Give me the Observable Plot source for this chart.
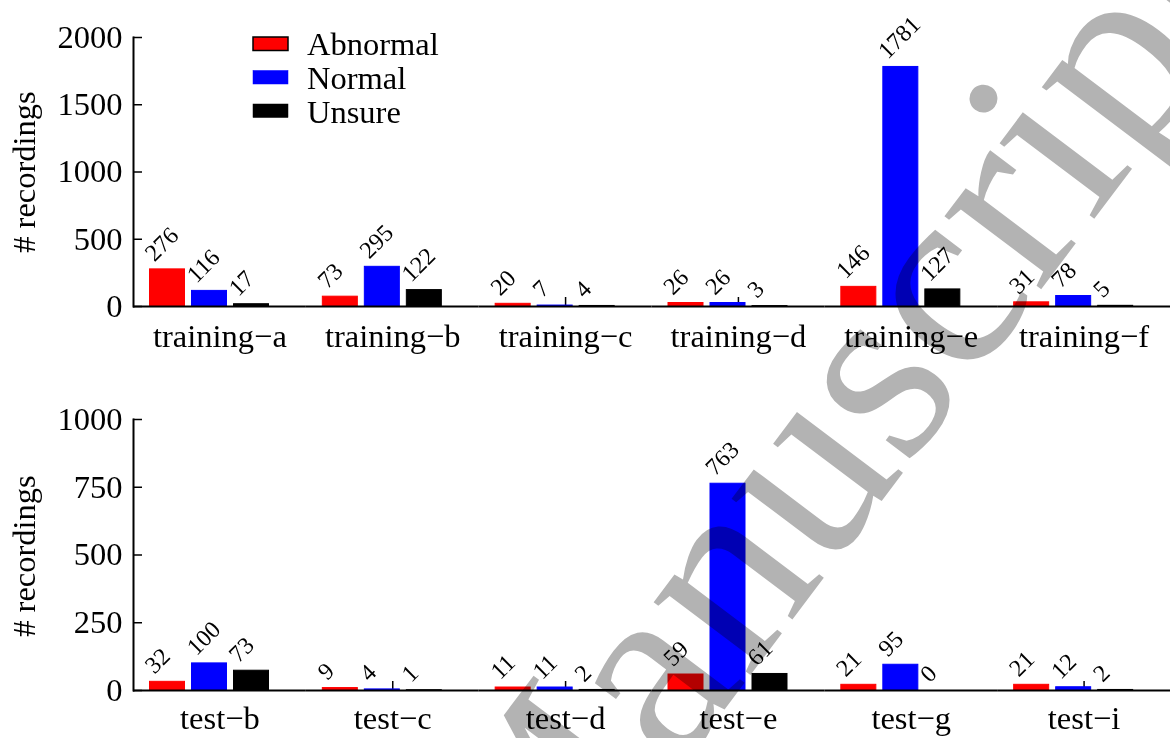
<!DOCTYPE html>
<html><head><meta charset="utf-8">
<script src="https://cdn.jsdelivr.net/npm/d3@7"></script>
<script src="https://cdn.jsdelivr.net/npm/@observablehq/plot@0.6"></script>
<style>
body{margin:0;background:#fff;}
#wrap{position:relative;width:1170px;height:738px;overflow:hidden;font-family:"Liberation Serif","Times New Roman",serif;}
#top{position:absolute;left:0;top:0;}
#bottom{position:absolute;left:0;top:380px;}
#annot{position:absolute;left:0;top:0;}
#mark{position:absolute;left:0;top:0;mix-blend-mode:multiply;pointer-events:none;}
</style></head>
<body><div id="wrap"><div id="top"></div><div id="bottom"></div></div>
<script>
const seriesNames = ["Abnormal", "Normal", "Unsure"];
const seriesColors = ["#ff0000", "#0000ff", "#000000"];

const trainingSets = ["training\u2212a", "training\u2212b", "training\u2212c", "training\u2212d", "training\u2212e", "training\u2212f"];
const trainingAbnormal = [276, 73, 20, 26, 146, 31];
const trainingNormal = [116, 295, 7, 26, 1781, 78];
const trainingUnsure = [17, 122, 4, 3, 127, 5];
const trainingTicks = [0, 500, 1000, 1500, 2000];

const testSets = ["test\u2212b", "test\u2212c", "test\u2212d", "test\u2212e", "test\u2212g", "test\u2212i"];
const testAbnormal = [32, 9, 11, 59, 21, 21];
const testNormal = [100, 4, 11, 763, 95, 12];
const testUnsure = [73, 1, 2, 61, 0, 2];
const testTicks = [0, 250, 500, 750, 1000];

const yLabel = "# recordings";
const watermark = "Manuscript";

const FONT = "Liberation Serif, Times New Roman, serif";

function panel(sets, abn, nor, uns, ticks, opts) {
  const rows = sets.flatMap((s, i) => [
    {set: s, series: seriesNames[0], value: abn[i]},
    {set: s, series: seriesNames[1], value: nor[i]},
    {set: s, series: seriesNames[2], value: uns[i]}
  ]);
  const facetWidth = (1170 - 133) / sets.length;
  return Plot.plot({
    width: 1170,
    height: opts.height,
    marginLeft: 133,
    marginRight: 0,
    marginTop: opts.marginTop,
    marginBottom: opts.marginBottom,
    style: {fontFamily: FONT, fontSize: "32.5px", color: "#000", background: "transparent", overflow: "visible"},
    fx: {domain: sets, padding: 0, round: false, label: null},
    x: {domain: seriesNames, axis: null, paddingInner: 7 / 42, paddingOuter: 0, round: false, insetLeft: 16.5, insetRight: facetWidth - 135.5},
    y: {domain: [ticks[0], ticks[ticks.length - 1]], label: null},
    color: {domain: seriesNames, range: seriesColors},
    marks: [
      Plot.axisFx({anchor: "bottom", tickSize: -9, fill: "none", strokeWidth: 1.5, label: null}),
      Plot.axisFx({anchor: "bottom", tickSize: 0, tickPadding: opts.labelPad, fontSize: 32.5, label: null}),
      Plot.ruleY(ticks, {facetAnchor: "left", insetRight: facetWidth - 9, strokeWidth: 1.5}),
      Plot.axisY({ticks, tickSize: 0, tickPadding: 11, fontSize: 32.5, tickFormat: d => String(d), label: null}),
      Plot.barY(rows, {fx: "set", x: "series", y: "value", fill: "series", stroke: "series", strokeWidth: 1}),
      Plot.ruleY([0], {strokeWidth: 2}),
      Plot.frame({anchor: "left", facetAnchor: "left", strokeWidth: 2}),
      Plot.text(rows, {fx: "set", x: "series", y: "value", text: d => String(d.value), rotate: -45,
        textAnchor: "start", lineAnchor: "bottom", dx: -13, dy: -7, fontSize: 24})
    ]
  });
}

document.getElementById("top").append(
  panel(trainingSets, trainingAbnormal, trainingNormal, trainingUnsure, trainingTicks,
    {height: 380, marginTop: 37, marginBottom: 74, labelPad: 17}));
document.getElementById("bottom").append(
  panel(testSets, testAbnormal, testNormal, testUnsure, testTicks,
    {height: 358, marginTop: 39, marginBottom: 48, labelPad: 15}));

// annotations: y labels and legend
const wrap = d3.select("#wrap");
const annot = wrap.append("svg").attr("id", "annot").attr("width", 1170).attr("height", 738)
  .style("font-family", FONT).style("font-size", "32.5px");
[172, 556].forEach(cy => {
  annot.append("text").attr("transform", `translate(35,${cy}) rotate(-90)`)
    .attr("text-anchor", "middle").attr("fill", "#000").text(yLabel);
});
const leg = annot.append("g");
seriesNames.forEach((name, i) => {
  leg.append("rect").attr("x", 253).attr("y", 37 + 33.5 * i).attr("width", 35).attr("height", 13.5)
    .attr("fill", seriesColors[i]).attr("stroke", i === 0 ? "#000" : seriesColors[i]).attr("stroke-width", i === 0 ? 1.5 : 0.5);
  leg.append("text").attr("x", 307).attr("y", 55 + 34 * i).attr("fill", "#000").text(name);
});

// watermark
const wm = wrap.append("svg").attr("id", "mark").attr("width", 1170).attr("height", 738);
wm.append("text").attr("transform", "translate(535,961) rotate(-53)")
  .attr("font-family", FONT).attr("font-size", 264).attr("fill", "#b3b3b3").text(watermark);
</script>
</body></html>
